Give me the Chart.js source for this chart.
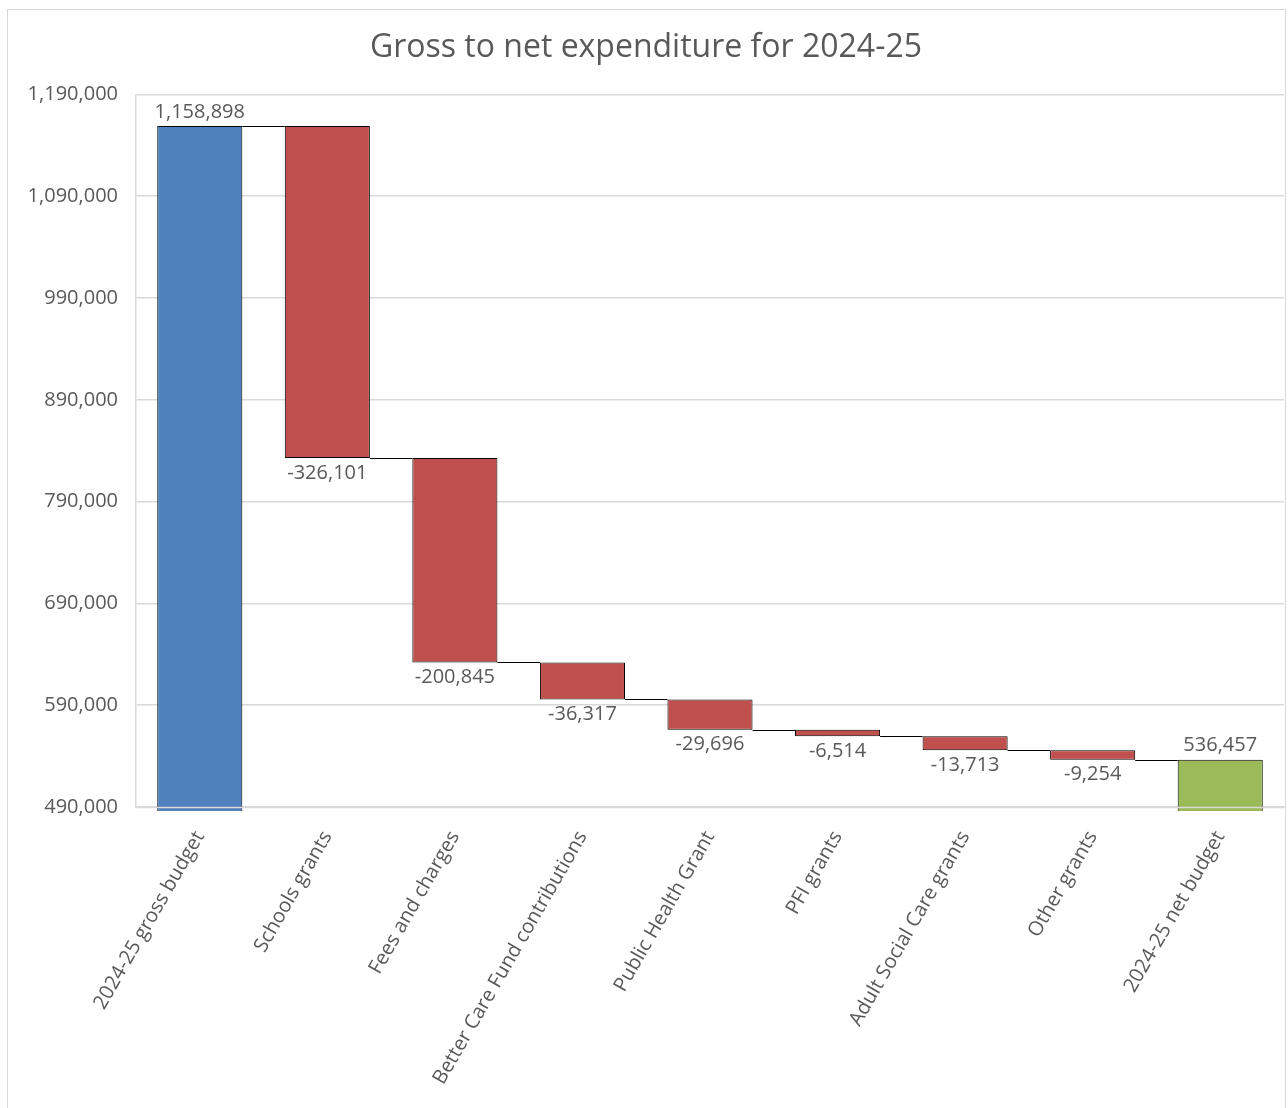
<!DOCTYPE html>
<html>
<head>
<meta charset="utf-8">
<script src="https://cdn.jsdelivr.net/npm/chart.js@4.4.1/dist/chart.umd.min.js"></script>
<style>
  html, body { margin: 0; padding: 0; background: #ffffff; }
  #wrap { position: relative; width: 1288px; height: 1108px; }
</style>
</head>
<body>
<div id="wrap"><canvas id="c" width="1288" height="1108"></canvas></div>
<script>
// ---- Data ----
const categories = [
  "2024-25 gross budget",
  "Schools grants",
  "Fees and charges",
  "Better Care Fund contributions",
  "Public Health Grant",
  "PFI grants",
  "Adult Social Care grants",
  "Other grants",
  "2024-25 net budget"
];
const values = [1158898, -326101, -200845, -36317, -29696, -6514, -13713, -9254, 536457];
const kinds = ["total", "delta", "delta", "delta", "delta", "delta", "delta", "delta", "total"];
const yTickMin = 490000;
const yTickMax = 1190000;
const yTickStep = 100000;
const chartTitle = "Gross to net expenditure for 2024-25";

// ---- Build floating ranges ----
const ranges = [];
const levels = [];
let running = 0;
values.forEach((v, i) => {
  if (kinds[i] === "total") {
    ranges.push([0, v]);
    running = v;
  } else {
    ranges.push([running, running + v]);
    running = running + v;
  }
  levels.push(running);
});
const colors = kinds.map((k, i) => k === "delta" ? "#c0504d" : (i === 0 ? "#4f81bd" : "#9bbb59"));

const FONT = "'Open Sans', 'Noto Sans', sans-serif";
const TEXT = "#595959";
const GRID = "#d9d9d9";

const fmt = n => n.toLocaleString("en-US");

const framePlugin = {
  id: "frame",
  beforeDraw(chart) {
    const ctx = chart.ctx;
    ctx.save();
    ctx.fillStyle = "#ffffff";
    ctx.fillRect(0, 0, chart.width, chart.height);
    ctx.strokeStyle = GRID;
    ctx.lineWidth = 1;
    ctx.strokeRect(7.5, 9.5, 1278, 1105);
    ctx.restore();
  }
};

const waterfallPlugin = {
  id: "waterfall",
  afterDatasetsDraw(chart) {
    const ctx = chart.ctx;
    const meta = chart.getDatasetMeta(0);
    const y = chart.scales.y;
    const area = chart.chartArea;
    ctx.save();
    // bottom axis line drawn over bars
    ctx.strokeStyle = GRID;
    ctx.lineWidth = 1.5;
    ctx.beginPath();
    ctx.moveTo(area.left, Math.round(area.bottom) + 0.5);
    ctx.lineTo(area.right, Math.round(area.bottom) + 0.5);
    ctx.stroke();
    // connectors
    ctx.strokeStyle = "#000000";
    ctx.lineWidth = 1;
    for (let i = 0; i < meta.data.length - 1; i++) {
      const a = meta.data[i], b = meta.data[i + 1];
      const py = Math.round(y.getPixelForValue(levels[i])) + 0.5;
      ctx.beginPath();
      ctx.moveTo(a.x + a.width / 2, py);
      ctx.lineTo(b.x - b.width / 2, py);
      ctx.stroke();
    }
    // labels
    ctx.fillStyle = TEXT;
    ctx.font = "20px " + FONT;
    ctx.textAlign = "center";
    ctx.textBaseline = "middle";
    meta.data.forEach((bar, i) => {
      const top = y.getPixelForValue(Math.max(ranges[i][0], ranges[i][1]));
      const bot = y.getPixelForValue(Math.min(ranges[i][0], ranges[i][1]));
      if (kinds[i] === "total") {
        ctx.fillText(fmt(values[i]), bar.x, top - 14);
      } else {
        ctx.fillText(fmt(values[i]), bar.x, bot + 15);
      }
    });
    ctx.restore();
  }
};

new Chart(document.getElementById("c"), {
  type: "bar",
  data: {
    labels: categories,
    datasets: [{
      data: ranges,
      backgroundColor: colors,
      borderColor: "#000000",
      borderWidth: 1,
      borderSkipped: false,
      barPercentage: 0.667,
      categoryPercentage: 1.0,
      clip: { left: 0, top: 0, right: 0, bottom: 4 }
    }]
  },
  options: {
    responsive: false,
    animation: false,
    events: [],
    layout: { padding: { left: 8, right: 4, top: 0, bottom: 0 } },
    plugins: {
      legend: { display: false },
      tooltip: { enabled: false },
      title: {
        display: true,
        text: chartTitle,
        color: TEXT,
        font: { family: FONT, size: 32, weight: "normal" },
        padding: { top: 29, bottom: 27 }
      }
    },
    scales: {
      x: {
        grid: { display: false, drawTicks: false },
        border: { display: true, color: GRID, width: 1.5 },
        ticks: {
          color: TEXT,
          font: { family: FONT, size: 20 },
          maxRotation: 60,
          minRotation: 60,
          autoSkip: false,
          padding: 20
        },
        afterFit(scale) { scale.height = 301; }
      },
      y: {
        min: yTickMin,
        max: yTickMax,
        grid: { color: GRID, lineWidth: 1.5, drawTicks: false },
        border: { display: true, color: GRID, width: 1.5 },
        ticks: {
          stepSize: yTickStep,
          color: TEXT,
          font: { family: FONT, size: 20 },
          padding: 18,
          callback: v => fmt(v)
        },
        afterFit(scale) { scale.width = 128; }
      }
    }
  },
  plugins: [framePlugin, waterfallPlugin]
});
</script>
</body>
</html>
